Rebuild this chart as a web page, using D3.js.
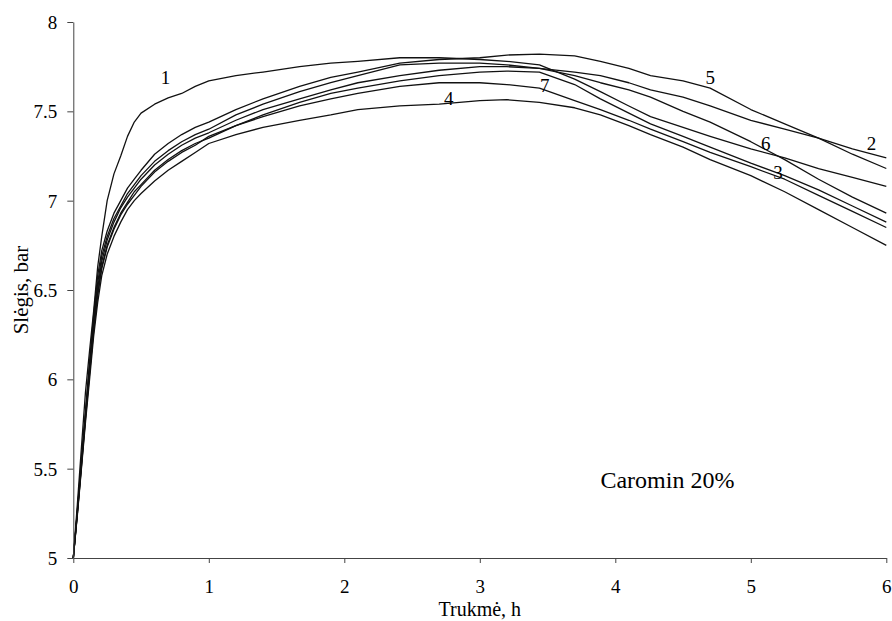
<!DOCTYPE html>
<html><head><meta charset="utf-8">
<script src="https://cdn.jsdelivr.net/npm/d3@7"></script>
<style>
body{margin:0;background:#fff}
svg{display:block}
</style>
</head><body>
<svg id="c" width="892" height="621"></svg>
<script>
// ---- data ----
const hours = [0,0.03,0.06,0.09,0.12,0.15,0.18,0.21,0.25,0.3,0.35,0.4,0.45,0.5,0.6,0.7,0.8,0.9,1.0,1.2,1.4,1.67,1.9,2.1,2.41,2.7,3.0,3.2,3.44,3.7,3.89,4.1,4.26,4.5,4.7,5.0,5.25,5.5,5.75,6.0];

const series1 = [5.00,5.30,5.62,5.93,6.16,6.38,6.63,6.80,7.00,7.15,7.25,7.36,7.44,7.49,7.54,7.575,7.60,7.64,7.67,7.70,7.72,7.75,7.77,7.78,7.80,7.80,7.79,7.78,7.76,7.68,7.61,7.53,7.47,7.41,7.36,7.29,7.24,7.18,7.13,7.08];
const series2 = [5.00,5.26,5.54,5.81,6.08,6.33,6.54,6.69,6.80,6.90,6.97,7.04,7.09,7.14,7.22,7.28,7.33,7.37,7.40,7.48,7.54,7.61,7.66,7.70,7.76,7.77,7.77,7.76,7.74,7.72,7.70,7.66,7.62,7.58,7.53,7.45,7.40,7.35,7.29,7.24];
const series3 = [5.00,5.25,5.52,5.79,6.04,6.28,6.48,6.63,6.75,6.85,6.93,6.99,7.05,7.09,7.17,7.23,7.28,7.32,7.35,7.42,7.48,7.55,7.60,7.63,7.67,7.70,7.72,7.725,7.72,7.65,7.57,7.49,7.43,7.36,7.30,7.21,7.14,7.06,6.97,6.88];
const series4 = [5.00,5.24,5.50,5.76,6.00,6.24,6.43,6.58,6.70,6.80,6.88,6.95,7.00,7.04,7.11,7.17,7.22,7.27,7.32,7.37,7.41,7.45,7.48,7.51,7.53,7.54,7.56,7.565,7.55,7.52,7.48,7.42,7.37,7.30,7.23,7.14,7.05,6.95,6.85,6.75];
const series5 = [5.00,5.27,5.55,5.82,6.10,6.36,6.58,6.72,6.83,6.93,7.00,7.07,7.12,7.17,7.26,7.32,7.37,7.41,7.44,7.51,7.57,7.64,7.69,7.72,7.77,7.79,7.80,7.815,7.82,7.81,7.78,7.74,7.70,7.67,7.63,7.51,7.43,7.35,7.26,7.18];
const series6 = [5.00,5.26,5.53,5.80,6.06,6.31,6.51,6.66,6.78,6.88,6.96,7.02,7.07,7.12,7.20,7.26,7.31,7.35,7.38,7.45,7.51,7.57,7.62,7.66,7.70,7.73,7.75,7.75,7.74,7.70,7.66,7.62,7.58,7.50,7.44,7.33,7.23,7.12,7.02,6.93];
const series7 = [5.00,5.25,5.51,5.78,6.03,6.27,6.47,6.62,6.74,6.84,6.92,6.98,7.03,7.08,7.16,7.22,7.27,7.31,7.36,7.42,7.47,7.53,7.57,7.60,7.64,7.66,7.66,7.65,7.63,7.56,7.51,7.45,7.40,7.33,7.27,7.19,7.12,7.03,6.94,6.85];

const seriesNames = ["1","2","3","4","5","6","7"];
const xTicks = [0,1,2,3,4,5,6];
const xTickLabels = ["0","1","2","3","4","5","6"];
const yTicks = [5,5.5,6,6.5,7,7.5,8];
const yTickLabels = ["5","5.5","6","6.5","7","7.5","8"];

// series label anchors (data coordinates)
const labelText = ["1","4","7","5","6","2","3"];
const labelHours = [0.68,2.77,3.48,4.70,5.11,5.89,5.20];
const labelValues = [7.69,7.572,7.647,7.69,7.32,7.32,7.16];

const noteText = "Caromin 20%";
const noteHour = 3.89, noteValue = 5.39;
const xTitle = "Trukmė, h";
const yTitle = "Slėgis, bar";

// ---- chart ----
const FONT = '"Liberation Serif", Tinos, "Times New Roman", "DejaVu Serif", serif';
const allSeries = [series1,series2,series3,series4,series5,series6,series7];
const svg = d3.select("#c");
const x = d3.scaleLinear().domain([0,6]).range([73.3,886.3]);
const y = d3.scaleLinear().domain([5,8]).range([558,22]);

const line = d3.line().x((d,i)=>x(hours[i])).y(d=>y(d));
svg.append("g").selectAll("path").data(allSeries).join("path")
  .attr("d", d=>line(d))
  .attr("fill","none").attr("stroke","#111").attr("stroke-width",1.3)
  .attr("stroke-linejoin","round");

const gx = svg.append("g").attr("transform",`translate(0,${y(5)})`)
  .call(d3.axisBottom(x).tickValues(xTicks).tickFormat((d,i)=>xTickLabels[i]).tickSizeInner(5).tickSizeOuter(0).tickPadding(17));
const gy = svg.append("g").attr("transform",`translate(${x(0)},0)`)
  .call(d3.axisLeft(y).tickValues(yTicks).tickFormat((d,i)=>yTickLabels[i]).tickSizeInner(6).tickSizeOuter(0).tickPadding(10));
[gx,gy].forEach(g=>{
  g.attr("font-family",null).attr("font-size",null);
  g.selectAll("path,line").attr("stroke","#444").attr("stroke-width",1);
  g.selectAll("text").style("font-family",FONT).style("font-size","19px").attr("fill","#000");
});
gy.selectAll("text").attr("dy","0.34em");

svg.append("g").selectAll("text").data(labelText).join("text")
  .attr("x",(d,i)=>x(labelHours[i])).attr("y",(d,i)=>y(labelValues[i]))
  .attr("text-anchor","middle").attr("dy","0.35em")
  .style("font-family",FONT).style("font-size","19px")
  .text(d=>d);

svg.append("text").attr("x",x(noteHour)).attr("y",y(noteValue))
  .style("font-family",FONT).style("font-size","24px").text(noteText);

svg.append("text").attr("x",(x(0)+x(6))/2).attr("y",616)
  .attr("text-anchor","middle").style("font-family",FONT).style("font-size","20px").text(xTitle);

svg.append("text").attr("transform",`translate(28,${(y(5)+y(8))/2}) rotate(-90)`)
  .attr("text-anchor","middle").style("font-family",FONT).style("font-size","21px").text(yTitle);
</script>
</body></html>
